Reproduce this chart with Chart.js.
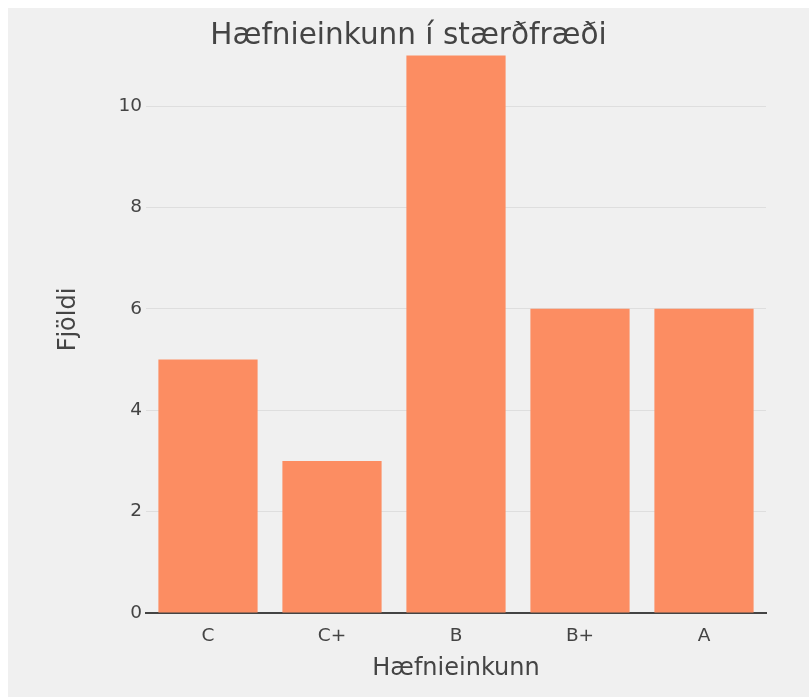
<!DOCTYPE html>
<html>
<head>
<meta charset="utf-8">
<script src="https://cdn.jsdelivr.net/npm/chart.js@4.4.0/dist/chart.umd.min.js"></script>
<style>
  html, body { margin: 0; padding: 0; background: #fff; }
  #wrap { position: absolute; left: 8px; top: 8px; width: 801px; height: 689px; background: #f0f0f0; }
</style>
</head>
<body>
<div id="wrap"><canvas id="myChart" width="801" height="689"></canvas></div>
<script>
var categories = ['C', 'C+', 'B', 'B+', 'A'];
var counts = [5, 3, 11, 6, 6];
var yTicks = [0, 2, 4, 6, 8, 10];
var chartTitle = 'Hæfnieinkunn í stærðfræði';
var xTitle = 'Hæfnieinkunn';
var yTitle = 'Fjöldi';

var FONT = "'DejaVu Sans', Verdana, sans-serif";
var TEXT = '#444';

// title is drawn over the plot like plotly does, so it takes no layout space
var titlePlugin = {
    id: 'overTitle',
    afterDraw: function(chart){
        var ctx = chart.ctx;
        ctx.save();
        ctx.font = '29.5px ' + FONT;
        ctx.fillStyle = TEXT;
        ctx.textAlign = 'center';
        ctx.textBaseline = 'middle';
        ctx.fillText(chartTitle, chart.width / 2, 28);
        ctx.restore();
    }
};

var ctx = document.getElementById('myChart').getContext('2d');
var myChart = new Chart(ctx, {
    type: 'bar',
    data: {
        labels: categories,
        datasets: [{
            data: counts,
            backgroundColor: 'rgb(252, 141, 98)',
            borderWidth: 0,
            categoryPercentage: 1,
            barPercentage: 0.8
        }]
    },
    options: {
        responsive: false,
        animation: false,
        layout: { padding: { left: 0, right: 43, top: 18, bottom: 0 } },
        plugins: {
            legend: { display: false },
            tooltip: { enabled: false }
        },
        scales: {
            x: {
                grid: { display: false },
                border: { color: '#444', width: 2 },
                ticks: { color: TEXT, font: { family: FONT, size: 18.5 }, padding: 4 },
                title: {
                    display: true, text: xTitle, color: TEXT,
                    font: { family: FONT, size: 24 },
                    padding: { top: 0, bottom: 14 }
                },
                afterFit: function(scale){ scale.height = 84; }
            },
            y: {
                min: 0,
                max: 11.58,
                grid: { color: '#dedede', lineWidth: 1, drawTicks: false },
                border: { display: false },
                afterBuildTicks: function(scale){
                    scale.ticks = yTicks.map(function(v){ return { value: v }; });
                },
                ticks: { color: TEXT, font: { family: FONT, size: 18.5 }, padding: 4 },
                title: {
                    display: true, text: yTitle, color: TEXT,
                    font: { family: FONT, size: 24 },
                    padding: { top: 46, bottom: 0 }
                },
                afterFit: function(scale){ scale.width = 138; }
            }
        }
    },
    plugins: [titlePlugin]
});
</script>
</body>
</html>
